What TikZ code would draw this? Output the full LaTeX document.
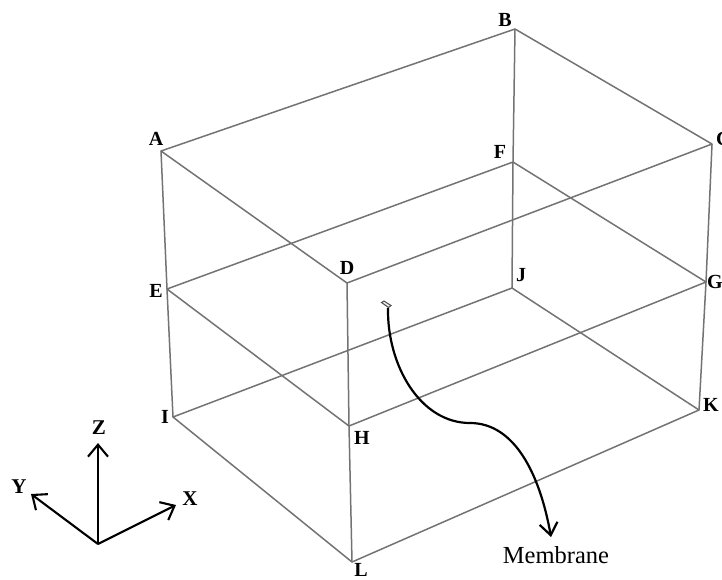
\documentclass[tikz,border=0pt]{standalone}
\usepackage{fontspec}
\setmainfont{Liberation Serif}
\usetikzlibrary{arrows.meta}
\tikzset{
  edge/.style={draw=black!55,line width=1.5pt,line join=round},
  axis/.style={draw=black,line width=2.1pt,-{Straight Barb[length=12pt,width=20pt,line width=2.1pt]}},
  pt/.style={inner sep=0pt,font=\bfseries\fontsize{20}{22}\selectfont},
  axl/.style={inner sep=0pt,font=\bfseries\fontsize{21}{23}\selectfont},
  memb/.style={draw=black,line width=2.2pt},
}
\begin{document}
\begin{tikzpicture}[x=1pt,y=-1pt]
\useasboundingbox (0,0) rectangle (722,579);
\clip (0,0) rectangle (722,579);
\coordinate (A) at (161,151);
\coordinate (B) at (515,29);
\coordinate (C) at (712,144);
\coordinate (D) at (347,283);
\coordinate (E) at (167,289);
\coordinate (F) at (513,162);
\coordinate (G) at (706,282);
\coordinate (H) at (349,426);
\coordinate (I) at (173,417);
\coordinate (J) at (512,288);
\coordinate (K) at (699,410);
\coordinate (L) at (352,562);
\draw[edge] (A)--(B)--(C)--(D)--cycle;
\draw[edge] (E)--(F)--(G)--(H)--cycle;
\draw[edge] (I)--(J)--(K)--(L)--cycle;
\draw[edge] (A)--(E)--(I);
\draw[edge] (B)--(F)--(J);
\draw[edge] (C)--(G)--(K);
\draw[edge] (D)--(H)--(L);
\node[pt] (lA) at (156,139) {A};
\node[pt] (lB) at (505,20) {B};
\node[pt,anchor=west] (lC) at (716,139) {C};
\node[pt] (lD) at (347,268) {D};
\node[pt] (lE) at (156,291) {E};
\node[pt] (lF) at (500,152) {F};
\node[pt] (lG) at (715,282) {G};
\node[pt] (lH) at (362,438) {H};
\node[pt] (lI) at (165,417) {I};
\node[pt] (lJ) at (521,275) {J};
\node[pt] (lK) at (711,405) {K};
\node[pt] (lL) at (361,569.5) {L};
% membrane patch
\coordinate (m1) at (381.5,302.5);
\coordinate (m2) at (384,301);
\coordinate (m3) at (391,305.5);
\coordinate (m4) at (388.5,307.5);
\draw[black!70,line width=1pt,fill=black!8] (m1)--(m2)--(m3)--(m4)--cycle;
\coordinate (mt) at (388,308);
\coordinate (mm) at (470,423);
\coordinate (mh) at (551,537);
\node[font=\fontsize{24.5}{26}\selectfont,inner sep=0pt] (mlab) at (556,555) {Membrane};
\draw[memb] (mt) .. controls (387,365) and (420,423) .. (mm);
\draw[memb,-{Straight Barb[length=12pt,width=18pt,line width=2.2pt]}] (mm) .. controls (515,423) and (540,475) .. (mh);
% axes
\coordinate (O) at (98,544);
\coordinate (Xe) at (176,505);
\coordinate (Ye) at (31,494);
\coordinate (Ze) at (98,443);
\draw[axis] (O)--(Xe);
\draw[axis] (O)--(Ye);
\draw[axis] (O)--(Ze);
\node[axl] (lX) at (190,499) {X};
\node[axl] (lY) at (19,487) {Y};
\node[axl] (lZ) at (99,428) {Z};
\end{tikzpicture}
\end{document}
